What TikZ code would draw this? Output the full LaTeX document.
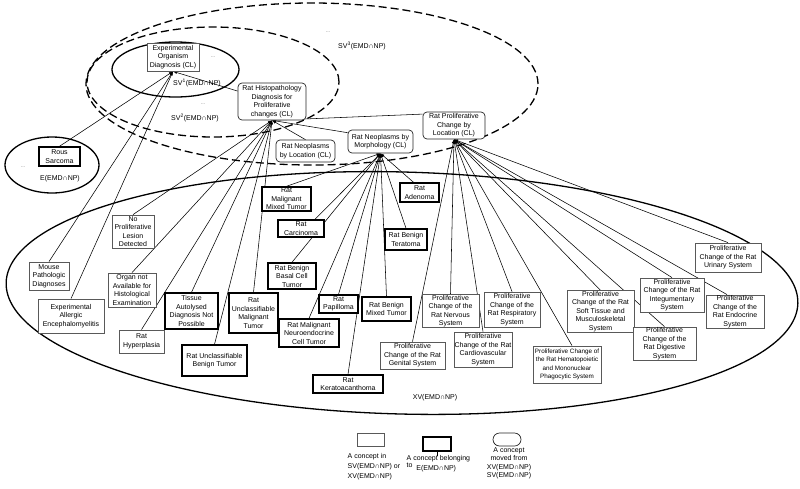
\documentclass[tikz,border=0pt]{standalone}
\usepackage{fontspec}
\setmainfont{Liberation Sans}
\usetikzlibrary{arrows.meta,backgrounds}
\begin{document}
\begin{tikzpicture}[x=1pt,y=-1pt,
  every node/.style={font=\fontsize{7}{8.5}\selectfont, align=center, inner sep=0.5pt},
  sz/.style 2 args={minimum width=#1pt, minimum height=#2pt},
  thinbox/.style={draw=black!65, line width=0.8pt, fill=white},
  thickbox/.style={draw=black, line width=1.4pt, fill=white},
  roundbox/.style={draw=black!85, line width=0.7pt, rounded corners=4pt, fill=white},
  conn/.style={line width=0.55pt, -{Latex[length=4pt,width=3pt]}},
  solidell/.style={line width=1.3pt},
  dashell/.style={line width=1.3pt, dash pattern=on 8pt off 4pt},
  lbl/.style={font=\fontsize{7}{8.5}\selectfont},
  dots/.style={font=\fontsize{5}{6}\selectfont, text=black!60}
]
\useasboundingbox (0,0) rectangle (800,488);

% top concepts
\node[thinbox, sz={52}{28}] (eod) at (173,57) {Experimental\\Organism\\Diagnosis (CL)};
\node[roundbox, sz={68}{37}] (rh) at (272,101.5) {Rat Histopathology\\Diagnosis for\\Proliferative\\changes (CL)};
\node[roundbox, sz={59}{22}] (rnl) at (305.5,151) {Rat Neoplasms\\by Location (CL)};
\node[roundbox, sz={65}{23}] (rnm) at (380.5,141.5) {Rat Neoplasms by\\Morphology (CL)};
\node[roundbox, sz={62}{27}] (pcl) at (454,125.5) {Rat Proliferative\\Change by\\Location (CL)};
\node[thickbox, sz={41}{19}] (rous) at (59.5,156.5) {Rous\\Sarcoma};

% lower left
\node[thinbox, sz={42}{33}] (nopro) at (133,231.5) {No\\Proliferative\\Lesion\\Detected};
\node[thinbox, sz={40}{28}] (mouse) at (49,276) {Mouse\\Pathologic\\Diagnoses};
\node[thinbox, sz={66}{34}] (eae) at (71,316) {Experimental\\Allergic\\Encephalomyelitis};
\node[thinbox, sz={48}{34}] (organ) at (132,290) {Organ not\\Available for\\Histological\\Examination};
\node[thinbox, sz={45}{23}] (hyper) at (141.5,341.5) {Rat\\Hyperplasia};
\node[thickbox, sz={53}{36}] (tissue) at (191.5,311) {Tissue\\Autolysed\\Diagnosis Not\\Possible};
\node[thickbox, sz={49}{40}] (umalig) at (253.5,313) {Rat\\Unclassifiable\\Malignant\\Tumor};
\node[thickbox, sz={65}{31}] (ubenign) at (214.5,360.5) {Rat Unclassifiable\\Benign Tumor};

% neoplasms by morphology
\node[thickbox, sz={49}{24}] (malmix) at (286.5,199) {Rat\\Malignant\\Mixed Tumor};
\node[thickbox, sz={46}{17}] (carc) at (301,228.5) {Rat\\Carcinoma};
\node[thickbox, sz={48}{26}] (basal) at (292,276) {Rat Benign\\Basal Cell\\Tumor};
\node[thickbox, sz={39}{18}] (papil) at (338.5,304) {Rat\\Papilloma};
\node[thickbox, sz={49}{24}] (bmix) at (386.5,309) {Rat Benign\\Mixed Tumor};
\node[thickbox, sz={60}{28}] (neuro) at (309,333) {Rat Malignant\\Neuroendocrine\\Cell Tumor};
\node[thickbox, sz={70}{18}] (kerato) at (348,384) {Rat\\Keratoacanthoma};
\node[thickbox, sz={42}{21}] (terat) at (406,239.5) {Rat Benign\\Teratoma};
\node[thickbox, sz={39}{19}] (adeno) at (419.5,192.5) {Rat\\Adenoma};

% proliferative change by location
\node[thinbox, sz={57}{32}] (nerv) at (450.5,311) {Proliferative\\Change of the\\Rat Nervous\\System};
\node[thinbox, sz={65}{27}] (genit) at (412.5,355.5) {Proliferative\\Change of the Rat\\Genital System};
\node[thinbox, sz={56}{35}] (resp) at (512,309.5) {Proliferative\\Change of the\\Rat Respiratory\\System};
\node[thinbox, sz={58}{35}] (cardio) at (483,349.5) {Proliferative\\Change of the Rat\\Cardiovascular\\System};
\node[thinbox, sz={68}{37}, font=\fontsize{6.3}{8.5}\selectfont] (hemat) at (567,364.5) {Proliferative Change of\\the Rat Hematopoietic\\and Mononuclear\\Phagocytic System};
\node[thinbox, sz={67}{41}] (soft) at (600.5,311.5) {Proliferative\\Change of the Rat\\Soft Tissue and\\Musculoskeletal\\System};
\node[thinbox, sz={63}{33}] (diges) at (664.5,343.5) {Proliferative\\Change of the\\Rat Digestive\\System};
\node[thinbox, sz={64}{34}] (integ) at (672,295) {Proliferative\\Change of the Rat\\Integumentary\\System};
\node[thinbox, sz={58}{33}] (endoc) at (735,311.5) {Proliferative\\Change of the\\Rat Endocrine\\System};
\node[thinbox, sz={66}{29}] (urin) at (728,257.5) {Proliferative\\Change of the Rat\\Urinary System};

% set labels
\node[dots] (d1) at (213,57) {...};
\node[lbl] (sv1) at (197,83) {SV\textsuperscript{1}(EMD∩NP)};
\node[dots] (d2) at (203,104) {...};
\node[lbl] (sv2) at (195,118) {SV\textsuperscript{2}(EMD∩NP)};
\node[dots] (d3) at (328,32) {...};
\node[lbl] (sv3) at (362,46) {SV\textsuperscript{3}(EMD∩NP)};
\node[dots] (d4) at (23,167) {...};
\node[lbl] (elbl) at (60,179) {E(EMD∩NP)};
\node[lbl] (xvlbl) at (435,398) {XV(EMD∩NP)};

% legend
\node[thinbox, sz={27}{13}] (lg1) at (370.5,439.5) {};
\node[thickbox, sz={28}{14}] (lg2) at (437,444) {};
\coordinate (lg2t) at (437,456);
\node[roundbox, rounded corners=6.5pt, sz={28}{13}] (lg3) at (507,439.5) {};
\node[lbl, font=\fontsize{7}{10}\selectfont, align=left, anchor=north west] (lt1) at (347,453) {A concept in\\SV(EMD∩NP) or\\XV(EMD∩NP)};
\node[lbl, font=\fontsize{7}{10}\selectfont, align=left, anchor=north west] (lt2) at (406,455) {A concept belonging\\\raisebox{3pt}{to}\ \ E(EMD∩NP)};
\node[lbl, font=\fontsize{7}{8.3}\selectfont, anchor=north] (lt3) at (509,447) {A concept\\moved from\\XV(EMD∩NP)\\SV(EMD∩NP)};

\begin{scope}[on background layer]
\fill[white] (0,0) rectangle (800,488);
% ellipses
\draw[solidell] (175.5,69.5) ellipse [x radius=63.5pt, y radius=27.5pt];
\draw[dashell] (213,82) ellipse [x radius=126pt, y radius=55pt];
\draw[dashell] (312,84) ellipse [x radius=226pt, y radius=81pt];
\draw[solidell] (52,165) ellipse [x radius=47pt, y radius=28pt];
\draw[solidell, rotate around={-1.5:(402,293)}] (402,293) ellipse [x radius=396pt, y radius=121pt];
% legend tick
\draw[line width=0.6pt] (lg2.south) -- (lg2t);
% to experimental organism diagnosis
\draw[conn] (rous.north) -- (eod.south);
\draw[conn] (mouse.north) -- (eod.south);
\draw[conn] (eae.north) -- (eod.south);
\draw[conn] (rh) -- (eod.south);
% to rat histopathology
\foreach \n in {nopro,organ,hyper,tissue,ubenign,umalig,rnl}
  \draw[conn] (\n.north) -- (rh.south);
\draw[conn] (rnm.165) -- (rh.south);
\draw[conn] (pcl.160) -- (rh.south);
% to neoplasms by morphology
\foreach \n in {malmix,basal,papil,bmix,neuro,kerato,terat}
  \draw[conn] (\n.north) -- (rnm.south);
\draw[conn] ([xshift=14pt]carc.north) -- (rnm.south);
\draw[conn] ([xshift=-6pt]adeno.north) -- (rnm.south);
% to proliferative change by location
\foreach \n in {genit,nerv,resp,cardio,soft,diges,integ,urin}
  \draw[conn] (\n.north) -- (pcl.south);
\draw[conn] ([xshift=5pt]hemat.north) -- (pcl.south);
\draw[conn] ([xshift=-8pt]endoc.north) -- (pcl.south);
\end{scope}
\end{tikzpicture}
\end{document}
